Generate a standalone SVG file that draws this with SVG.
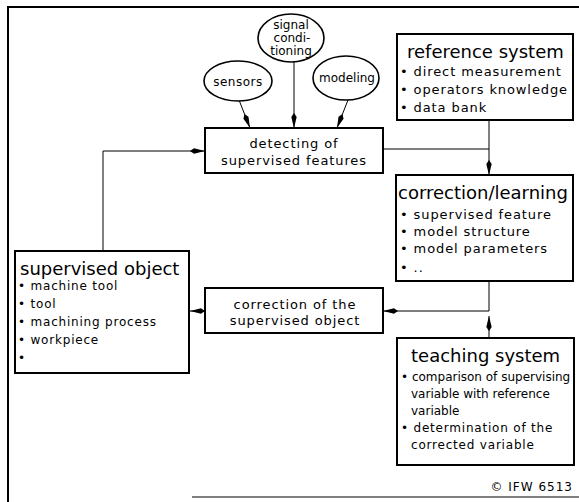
<svg xmlns="http://www.w3.org/2000/svg" width="579" height="502" viewBox="0 0 579 502">
  <defs>
    <marker id="arrow" markerUnits="userSpaceOnUse" markerWidth="16" markerHeight="8" refX="15" refY="3.5" orient="auto">
      <path d="M0,3.5 L4,0.8 L15,3.5 L4,6.2 Z" fill="#000"/>
    </marker>
  </defs>
  <style>
    text { font-family: "DejaVu Sans", "Liberation Sans", sans-serif; fill: #000; }
    .box { fill: #fff; stroke: #000; stroke-width: 2; }
    .oval { fill: #fff; stroke: #000; stroke-width: 1.6; }
    .frame { fill: none; stroke: #000; stroke-width: 2; }
    .wire { fill: none; stroke: #000; stroke-width: 1; }
    .title { font-size: 18px; }
    .item { font-size: 13px; letter-spacing: 0.9px; }
    .small { font-size: 12px; letter-spacing: 0.8px; }
    .label { font-size: 13px; letter-spacing: 0.9px; text-anchor: middle; }
    .oval-label { font-size: 12px; text-anchor: middle; }
  </style>

  <rect width="579" height="502" fill="#fff"/>

  <!-- outer frame -->
  <g id="frame">
    <path class="frame" d="M8,502 V7 H579"/>
    <path class="wire" d="M192,497 H579" stroke-width="1.5"/>
  </g>

  <!-- connectors -->
  <g id="connectors">
    <line class="wire" x1="239" y1="100" x2="250" y2="128" marker-end="url(#arrow)"/>
    <line class="wire" x1="294" y1="62" x2="294" y2="128" marker-end="url(#arrow)"/>
    <line class="wire" x1="348" y1="100" x2="337" y2="128" marker-end="url(#arrow)"/>
    <polyline class="wire" points="103,251 103,151 205,151" marker-end="url(#arrow)"/>
    <line class="wire" x1="383" y1="149" x2="489" y2="149"/>
    <line class="wire" x1="489" y1="120" x2="489" y2="175" marker-end="url(#arrow)"/>
    <line class="wire" x1="489" y1="281" x2="489" y2="311"/>
    <line class="wire" x1="489" y1="338" x2="489" y2="316" marker-end="url(#arrow)"/>
    <line class="wire" x1="489" y1="311" x2="383" y2="311" marker-end="url(#arrow)"/>
    <line class="wire" x1="205" y1="311" x2="190" y2="311" marker-end="url(#arrow)"/>
  </g>

  <g id="sensors">
    <ellipse class="oval" cx="238" cy="81" rx="34" ry="20"/>
    <text class="oval-label" x="238" y="86" font-size="13" letter-spacing="0.5">sensors</text>
  </g>

  <g id="signal-conditioning">
    <ellipse class="oval" cx="291" cy="38" rx="33" ry="24"/>
    <text class="oval-label" x="291" y="29" font-size="11">signal</text>
    <text class="oval-label" x="292" y="42" font-size="11">condi-</text>
    <text class="oval-label" x="291" y="55" font-size="11">tioning</text>
  </g>

  <g id="modeling">
    <ellipse class="oval" cx="346" cy="78" rx="33" ry="22"/>
    <text class="oval-label" x="347" y="82">modeling</text>
  </g>

  <g id="detecting">
    <rect class="box" x="205" y="128" width="178" height="45"/>
    <text class="label" x="294" y="148">detecting of</text>
    <text class="label" x="294" y="165">supervised features</text>
  </g>

  <g id="reference-system">
    <rect class="box" x="397" y="34" width="176" height="86"/>
    <text class="title" x="407" y="58">reference system</text>
    <text class="item" x="400" y="76">• direct measurement</text>
    <text class="item" x="400" y="94">• operators knowledge</text>
    <text class="item" x="400" y="112">• data bank</text>
  </g>

  <g id="correction-learning">
    <rect class="box" x="396" y="175" width="177" height="106"/>
    <text class="title" x="398" y="199">correction/learning</text>
    <text class="item" x="400" y="219">• supervised feature</text>
    <text class="item" x="400" y="236">• model structure</text>
    <text class="item" x="400" y="253">• model parameters</text>
    <text class="item" x="400" y="272">•  ..</text>
  </g>

  <g id="supervised-object">
    <rect class="box" x="15" y="251" width="174" height="122"/>
    <text class="title" x="20" y="275">supervised object</text>
    <text class="small" x="18" y="290">• machine tool</text>
    <text class="small" x="18" y="308">• tool</text>
    <text class="small" x="18" y="326">• machining process</text>
    <text class="small" x="18" y="344">• workpiece</text>
    <text class="small" x="18" y="362">•</text>
  </g>

  <g id="correction-of-object">
    <rect class="box" x="205" y="288" width="178" height="45"/>
    <text class="label" x="295" y="309">correction of the</text>
    <text class="label" x="295" y="325">supervised object</text>
  </g>

  <g id="teaching-system">
    <rect class="box" x="397" y="338" width="177" height="127"/>
    <text class="title" x="411" y="362">teaching system</text>
    <text font-size="12" x="401" y="381">• comparison of supervising</text>
    <text font-size="12" x="411" y="398">variable with reference</text>
    <text font-size="12" x="411" y="415">variable</text>
    <text class="small" x="401" y="432">• determination of the</text>
    <text class="small" x="411" y="449">corrected variable</text>
  </g>

  <text x="573" y="491" font-size="12" letter-spacing="1" text-anchor="end">© IFW 6513</text>
</svg>
